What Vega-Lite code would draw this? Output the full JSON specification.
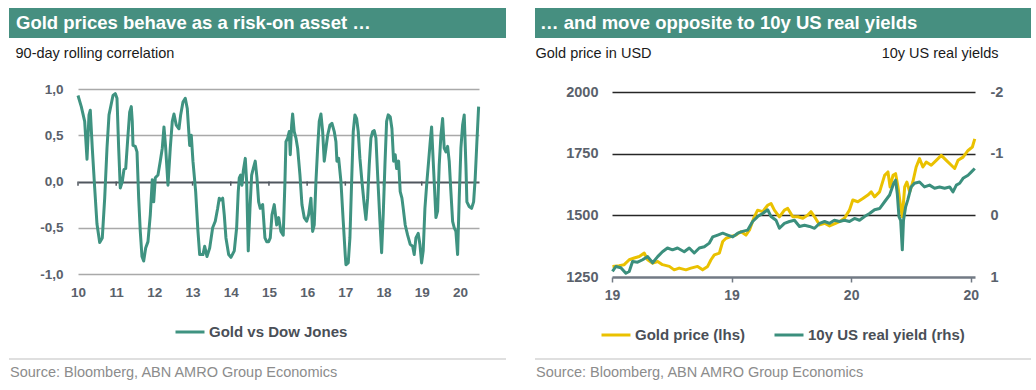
{
  "$schema": "https://vega.github.io/schema/vega-lite/v6.json",
  "padding": {"left": 8, "top": 8, "right": 0, "bottom": 0},
  "background": "white",
  "spacing": 27,
  "config": {
    "font": "Liberation Sans",
    "locale": {"number": {"decimal": ",", "thousands": ".", "grouping": [3], "currency": ["", " €"], "minus": "-"}},
    "view": {"stroke": null},
    "axis": {"labelFont": "Liberation Sans", "labelFontSize": 13.5, "labelFontWeight": "bold", "labelColor": "#5a616b", "titleFont": "Liberation Sans", "titleFontSize": 14.5, "titleFontWeight": "normal", "titleColor": "#1a1a1a"},
    "legend": {"direction": "horizontal", "symbolType": "stroke", "symbolSize": 841, "symbolStrokeWidth": 3, "labelFont": "Liberation Sans", "labelFontSize": 15, "labelFontWeight": "bold", "labelColor": "#4a4f57", "labelOffset": 3, "columnPadding": 22}
  },
  "resolve": {"scale": {"color": "independent"}, "legend": {"color": "independent"}},
  "hconcat": [
    {
      "spacing": 7,
      "resolve": {"scale": {"color": "independent"}, "legend": {"color": "independent"}},
      "vconcat": [
        {
          "width": 497, "height": 30,
          "view": {"fill": "#468f80", "stroke": null},
          "data": {"values": [{"title": "Gold prices behave as a risk-on asset …"}]},
          "mark": {"type": "text", "align": "left", "baseline": "middle", "dx": 7, "fontSize": 18.5, "fontWeight": "bold", "color": "white"},
          "encoding": {
            "text": {"field": "title"},
            "x": {"datum": 0, "type": "quantitative", "scale": {"domain": [0, 1]}, "axis": null},
            "y": {"datum": 0.5, "type": "quantitative", "scale": {"domain": [0, 1]}, "axis": null}
          }
        },
        {
          "spacing": 18,
          "resolve": {"scale": {"color": "independent"}, "legend": {"color": "independent"}},
          "vconcat": [
            {
              "width": 497, "height": 185,
              "layer": [
                {
                  "data": {"values": [{"yr": 2010}, {"yr": 2011}, {"yr": 2012}, {"yr": 2013}, {"yr": 2014}, {"yr": 2015}, {"yr": 2016}, {"yr": 2017}, {"yr": 2018}, {"yr": 2019}, {"yr": 2020}]},
                  "mark": {"type": "rule", "color": "#50575f", "strokeWidth": 1.5},
                  "encoding": {
                    "x": {"field": "yr", "type": "quantitative", "scale": {"domain": [2010, 2020.5], "range": [69, 470], "nice": false, "zero": false},
                      "axis": {"values": [2010, 2011, 2012, 2013, 2014, 2015, 2016, 2017, 2018, 2019, 2020], "labelExpr": "format(datum.value - 2000, 'd')", "domain": false, "ticks": false, "grid": false, "labelPadding": 11, "labelFlush": false, "title": null}},
                    "y": {"datum": 0, "type": "quantitative", "scale": {"domain": [-1, 1], "nice": false, "zero": false},
                      "axis": {"values": [-1, -0.5, 0, 0.5, 1], "format": ".1f", "offset": -69, "domain": false, "ticks": false, "labelPadding": 15, "grid": true,
                        "gridColor": {"condition": {"test": "datum.value === 0", "value": "#50575f"}, "value": "#a9a9a9"},
                        "gridWidth": {"condition": {"test": "datum.value === 0", "value": 2.2}, "value": 1.5},
                        "title": "90-day rolling correlation", "titleAngle": 0, "titleAlign": "left", "titleBaseline": "alphabetic", "titleX": -63, "titleY": -32}},
                    "y2": {"datum": -0.045}
                  }
                },
                {
                  "data": {"values": [
                    {"t": 2010.000, "corr": 0.93}, {"t": 2010.086, "corr": 0.81}, {"t": 2010.175, "corr": 0.65}, {"t": 2010.236, "corr": 0.24}, {"t": 2010.288, "corr": 0.72}, {"t": 2010.322, "corr": 0.77}, {"t": 2010.374, "corr": 0.36}, {"t": 2010.437, "corr": -0.07}, {"t": 2010.497, "corr": -0.46}, {"t": 2010.568, "corr": -0.66}, {"t": 2010.636, "corr": -0.61}, {"t": 2010.699, "corr": -0.18}, {"t": 2010.759, "corr": 0.36}, {"t": 2010.812, "corr": 0.72}, {"t": 2010.872, "corr": 0.84}, {"t": 2010.916, "corr": 0.93}, {"t": 2010.976, "corr": 0.95},
                    {"t": 2011.021, "corr": 0.90}, {"t": 2011.065, "corr": 0.36}, {"t": 2011.107, "corr": -0.07}, {"t": 2011.160, "corr": 0.00}, {"t": 2011.204, "corr": 0.13}, {"t": 2011.249, "corr": 0.14}, {"t": 2011.309, "corr": 0.50}, {"t": 2011.353, "corr": 0.75}, {"t": 2011.395, "corr": 0.81}, {"t": 2011.421, "corr": 0.65}, {"t": 2011.440, "corr": 0.39}, {"t": 2011.500, "corr": 0.38}, {"t": 2011.545, "corr": 0.32}, {"t": 2011.589, "corr": -0.18}, {"t": 2011.631, "corr": -0.54}, {"t": 2011.675, "corr": -0.81}, {"t": 2011.720, "corr": -0.86}, {"t": 2011.772, "corr": -0.72}, {"t": 2011.832, "corr": -0.65}, {"t": 2011.893, "corr": -0.36}, {"t": 2011.945, "corr": 0.02}, {"t": 2011.982, "corr": -0.22},
                    {"t": 2012.024, "corr": 0.04}, {"t": 2012.094, "corr": 0.07}, {"t": 2012.154, "corr": 0.22}, {"t": 2012.207, "corr": 0.36}, {"t": 2012.251, "corr": 0.59}, {"t": 2012.296, "corr": 0.36}, {"t": 2012.356, "corr": -0.04}, {"t": 2012.416, "corr": 0.36}, {"t": 2012.469, "corr": 0.65}, {"t": 2012.513, "corr": 0.73}, {"t": 2012.573, "corr": 0.61}, {"t": 2012.644, "corr": 0.57}, {"t": 2012.688, "corr": 0.72}, {"t": 2012.749, "corr": 0.86}, {"t": 2012.809, "corr": 0.90}, {"t": 2012.861, "corr": 0.79}, {"t": 2012.924, "corr": 0.39}, {"t": 2012.966, "corr": 0.50},
                    {"t": 2013.010, "corr": 0.22}, {"t": 2013.081, "corr": -0.11}, {"t": 2013.141, "corr": -0.54}, {"t": 2013.186, "corr": -0.79}, {"t": 2013.272, "corr": -0.79}, {"t": 2013.317, "corr": -0.70}, {"t": 2013.377, "corr": -0.81}, {"t": 2013.448, "corr": -0.72}, {"t": 2013.526, "corr": -0.50}, {"t": 2013.594, "corr": -0.43}, {"t": 2013.657, "corr": -0.29}, {"t": 2013.699, "corr": -0.18}, {"t": 2013.743, "corr": -0.20}, {"t": 2013.788, "corr": -0.18}, {"t": 2013.830, "corr": -0.36}, {"t": 2013.874, "corr": -0.61}, {"t": 2013.945, "corr": -0.79},
                    {"t": 2014.005, "corr": -0.82}, {"t": 2014.092, "corr": -0.75}, {"t": 2014.154, "corr": -0.50}, {"t": 2014.196, "corr": -0.11}, {"t": 2014.223, "corr": 0.04}, {"t": 2014.259, "corr": 0.07}, {"t": 2014.293, "corr": -0.04}, {"t": 2014.327, "corr": 0.11}, {"t": 2014.380, "corr": 0.25}, {"t": 2014.416, "corr": 0.00}, {"t": 2014.458, "corr": -0.75}, {"t": 2014.503, "corr": -0.29}, {"t": 2014.547, "corr": 0.07}, {"t": 2014.589, "corr": 0.14}, {"t": 2014.641, "corr": 0.22}, {"t": 2014.686, "corr": 0.04}, {"t": 2014.730, "corr": -0.22}, {"t": 2014.772, "corr": -0.29}, {"t": 2014.835, "corr": -0.25}, {"t": 2014.895, "corr": -0.61}, {"t": 2014.940, "corr": -0.65}, {"t": 2014.992, "corr": -0.65},
                    {"t": 2015.034, "corr": -0.61}, {"t": 2015.079, "corr": -0.36}, {"t": 2015.139, "corr": -0.25}, {"t": 2015.202, "corr": -0.47}, {"t": 2015.254, "corr": -0.39}, {"t": 2015.314, "corr": -0.54}, {"t": 2015.374, "corr": -0.58}, {"t": 2015.419, "corr": 0.00}, {"t": 2015.445, "corr": 0.43}, {"t": 2015.490, "corr": 0.47}, {"t": 2015.531, "corr": 0.54}, {"t": 2015.558, "corr": 0.29}, {"t": 2015.594, "corr": 0.61}, {"t": 2015.620, "corr": 0.73}, {"t": 2015.662, "corr": 0.54}, {"t": 2015.707, "corr": 0.47}, {"t": 2015.751, "corr": 0.36}, {"t": 2015.812, "corr": 0.07}, {"t": 2015.864, "corr": -0.25}, {"t": 2015.924, "corr": -0.39}, {"t": 2015.987, "corr": -0.43},
                    {"t": 2016.039, "corr": -0.36}, {"t": 2016.099, "corr": -0.18}, {"t": 2016.144, "corr": -0.54}, {"t": 2016.186, "corr": -0.47}, {"t": 2016.230, "corr": 0.00}, {"t": 2016.275, "corr": 0.36}, {"t": 2016.317, "corr": 0.65}, {"t": 2016.361, "corr": 0.73}, {"t": 2016.406, "corr": 0.54}, {"t": 2016.448, "corr": 0.22}, {"t": 2016.492, "corr": 0.36}, {"t": 2016.537, "corr": 0.50}, {"t": 2016.597, "corr": 0.61}, {"t": 2016.649, "corr": 0.63}, {"t": 2016.710, "corr": 0.54}, {"t": 2016.754, "corr": 0.43}, {"t": 2016.780, "corr": 0.22}, {"t": 2016.825, "corr": 0.25}, {"t": 2016.885, "corr": 0.00}, {"t": 2016.945, "corr": -0.43}, {"t": 2016.997, "corr": -0.79},
                    {"t": 2017.016, "corr": -0.90}, {"t": 2017.076, "corr": -0.88}, {"t": 2017.120, "corr": -0.61}, {"t": 2017.165, "corr": 0.00}, {"t": 2017.207, "corr": 0.54}, {"t": 2017.251, "corr": 0.72}, {"t": 2017.296, "corr": 0.68}, {"t": 2017.338, "corr": 0.54}, {"t": 2017.382, "corr": 0.25}, {"t": 2017.435, "corr": 0.00}, {"t": 2017.495, "corr": -0.25}, {"t": 2017.539, "corr": -0.41}, {"t": 2017.584, "corr": -0.18}, {"t": 2017.626, "corr": 0.18}, {"t": 2017.670, "corr": 0.47}, {"t": 2017.715, "corr": 0.54}, {"t": 2017.757, "corr": 0.55}, {"t": 2017.801, "corr": 0.47}, {"t": 2017.846, "corr": 0.07}, {"t": 2017.906, "corr": -0.43}, {"t": 2017.950, "corr": -0.77}, {"t": 2017.992, "corr": -0.36},
                    {"t": 2018.037, "corr": 0.18}, {"t": 2018.081, "corr": 0.65}, {"t": 2018.123, "corr": 0.72}, {"t": 2018.175, "corr": 0.70}, {"t": 2018.220, "corr": 0.57}, {"t": 2018.264, "corr": 0.22}, {"t": 2018.306, "corr": 0.29}, {"t": 2018.343, "corr": 0.14}, {"t": 2018.395, "corr": 0.22}, {"t": 2018.437, "corr": -0.11}, {"t": 2018.482, "corr": -0.18}, {"t": 2018.516, "corr": -0.29}, {"t": 2018.568, "corr": -0.47}, {"t": 2018.631, "corr": -0.58}, {"t": 2018.699, "corr": -0.68}, {"t": 2018.762, "corr": -0.70}, {"t": 2018.804, "corr": -0.79}, {"t": 2018.848, "corr": -0.61}, {"t": 2018.908, "corr": -0.56}, {"t": 2018.953, "corr": -0.68}, {"t": 2018.997, "corr": -0.88},
                    {"t": 2019.039, "corr": -0.75}, {"t": 2019.084, "corr": -0.29}, {"t": 2019.136, "corr": 0.00}, {"t": 2019.181, "corr": 0.22}, {"t": 2019.223, "corr": 0.43}, {"t": 2019.259, "corr": 0.59}, {"t": 2019.285, "corr": 0.36}, {"t": 2019.327, "corr": 0.00}, {"t": 2019.372, "corr": -0.39}, {"t": 2019.416, "corr": -0.32}, {"t": 2019.458, "corr": 0.18}, {"t": 2019.503, "corr": 0.50}, {"t": 2019.547, "corr": 0.68}, {"t": 2019.589, "corr": 0.36}, {"t": 2019.634, "corr": 0.32}, {"t": 2019.678, "corr": 0.38}, {"t": 2019.720, "corr": 0.22}, {"t": 2019.764, "corr": -0.11}, {"t": 2019.809, "corr": -0.43}, {"t": 2019.851, "corr": -0.50}, {"t": 2019.895, "corr": -0.54}, {"t": 2019.940, "corr": -0.79}, {"t": 2019.982, "corr": -0.18},
                    {"t": 2020.026, "corr": 0.36}, {"t": 2020.071, "corr": 0.61}, {"t": 2020.113, "corr": 0.72}, {"t": 2020.157, "corr": 0.18}, {"t": 2020.183, "corr": -0.22}, {"t": 2020.243, "corr": -0.27}, {"t": 2020.306, "corr": -0.29}, {"t": 2020.359, "corr": -0.22}, {"t": 2020.401, "corr": 0.04}, {"t": 2020.445, "corr": 0.43}, {"t": 2020.490, "corr": 0.81}
                  ]},
                  "mark": {"type": "line", "strokeWidth": 3, "strokeJoin": "round"},
                  "encoding": {
                    "x": {"field": "t", "type": "quantitative", "scale": {"domain": [2010, 2020.5], "range": [69, 470], "nice": false, "zero": false},
                      "axis": {"values": [2010, 2011, 2012, 2013, 2014, 2015, 2016, 2017, 2018, 2019, 2020], "labelExpr": "format(datum.value - 2000, 'd')", "domain": false, "ticks": false, "grid": false, "labelPadding": 11, "labelFlush": false, "title": null}},
                    "y": {"field": "corr", "type": "quantitative", "scale": {"domain": [-1, 1], "nice": false, "zero": false},
                      "axis": {"values": [-1, -0.5, 0, 0.5, 1], "format": ".1f", "offset": -69, "domain": false, "ticks": false, "labelPadding": 15, "grid": true,
                        "gridColor": {"condition": {"test": "datum.value === 0", "value": "#50575f"}, "value": "#a9a9a9"},
                        "gridWidth": {"condition": {"test": "datum.value === 0", "value": 2.2}, "value": 1.5},
                        "title": "90-day rolling correlation", "titleAngle": 0, "titleAlign": "left", "titleBaseline": "alphabetic", "titleX": -63, "titleY": -32}},
                    "color": {"datum": "Gold vs Dow Jones", "scale": {"domain": ["Gold vs Dow Jones"], "range": ["#3f9381"]}, "legend": {"title": null, "orient": "none", "legendX": 165, "legendY": 227}}
                  }
                }
              ]
            },
            {
              "width": 497, "height": 26,
              "layer": [
                {
                  "data": {"values": [{"sep": 1}]},
                  "mark": {"type": "rule", "color": "#d4d4d4", "strokeWidth": 1.5},
                  "encoding": {
                    "x": {"datum": 0, "type": "quantitative", "scale": {"domain": [0, 1]}, "axis": null},
                    "x2": {"datum": 1},
                    "y": {"datum": 1, "type": "quantitative", "scale": {"domain": [0, 1]}, "axis": null}
                  }
                },
                {
                  "data": {"values": [{"source": "Source: Bloomberg, ABN AMRO Group Economics"}]},
                  "mark": {"type": "text", "align": "left", "baseline": "middle", "fontSize": 14.5, "color": "#8c8c8c", "dx": 1},
                  "encoding": {
                    "text": {"field": "source"},
                    "x": {"datum": 0, "type": "quantitative", "scale": {"domain": [0, 1]}, "axis": null},
                    "y": {"datum": 0.45, "type": "quantitative", "scale": {"domain": [0, 1]}, "axis": null}
                  }
                }
              ]
            }
          ]
        }
      ]
    },
    {
      "spacing": 7,
      "resolve": {"scale": {"color": "independent"}, "legend": {"color": "independent"}},
      "vconcat": [
        {
          "width": 496, "height": 30,
          "view": {"fill": "#468f80", "stroke": null},
          "data": {"values": [{"title": "… and move opposite to 10y US real yields"}]},
          "mark": {"type": "text", "align": "left", "baseline": "middle", "dx": 5, "fontSize": 18.5, "fontWeight": "bold", "color": "white"},
          "encoding": {
            "text": {"field": "title"},
            "x": {"datum": 0, "type": "quantitative", "scale": {"domain": [0, 1]}, "axis": null},
            "y": {"datum": 0.5, "type": "quantitative", "scale": {"domain": [0, 1]}, "axis": null}
          }
        },
        {
          "spacing": 15,
          "resolve": {"scale": {"color": "independent"}, "legend": {"color": "independent"}},
          "vconcat": [
            {
              "width": 496, "height": 185,
              "resolve": {"scale": {"y": "independent"}},
              "layer": [
                {
                  "data": {"values": [
                    {"t": 2019.002, "gold": 1293}, {"t": 2019.030, "gold": 1296}, {"t": 2019.051, "gold": 1300}, {"t": 2019.072, "gold": 1320}, {"t": 2019.093, "gold": 1327}, {"t": 2019.114, "gold": 1333}, {"t": 2019.135, "gold": 1347}, {"t": 2019.149, "gold": 1320}, {"t": 2019.170, "gold": 1306}, {"t": 2019.191, "gold": 1313}, {"t": 2019.211, "gold": 1300}, {"t": 2019.240, "gold": 1293}, {"t": 2019.260, "gold": 1279}, {"t": 2019.281, "gold": 1286}, {"t": 2019.309, "gold": 1279}, {"t": 2019.330, "gold": 1286}, {"t": 2019.358, "gold": 1293}, {"t": 2019.379, "gold": 1279}, {"t": 2019.400, "gold": 1293}, {"t": 2019.414, "gold": 1320}, {"t": 2019.428, "gold": 1340}, {"t": 2019.449, "gold": 1347}, {"t": 2019.463, "gold": 1394}, {"t": 2019.477, "gold": 1407}, {"t": 2019.497, "gold": 1414}, {"t": 2019.518, "gold": 1420}, {"t": 2019.539, "gold": 1434}, {"t": 2019.560, "gold": 1420}, {"t": 2019.575, "gold": 1441}, {"t": 2019.595, "gold": 1494}, {"t": 2019.609, "gold": 1521}, {"t": 2019.630, "gold": 1515}, {"t": 2019.651, "gold": 1541}, {"t": 2019.665, "gold": 1548}, {"t": 2019.679, "gold": 1521}, {"t": 2019.700, "gold": 1494}, {"t": 2019.721, "gold": 1521}, {"t": 2019.735, "gold": 1528}, {"t": 2019.756, "gold": 1494}, {"t": 2019.777, "gold": 1494}, {"t": 2019.798, "gold": 1488}, {"t": 2019.819, "gold": 1501}, {"t": 2019.832, "gold": 1515}, {"t": 2019.847, "gold": 1494}, {"t": 2019.868, "gold": 1461}, {"t": 2019.889, "gold": 1468}, {"t": 2019.910, "gold": 1457}, {"t": 2019.930, "gold": 1465}, {"t": 2019.951, "gold": 1474}, {"t": 2019.972, "gold": 1488}, {"t": 2019.993, "gold": 1521},
                    {"t": 2020.007, "gold": 1562}, {"t": 2020.028, "gold": 1555}, {"t": 2020.049, "gold": 1568}, {"t": 2020.070, "gold": 1582}, {"t": 2020.084, "gold": 1595}, {"t": 2020.098, "gold": 1575}, {"t": 2020.119, "gold": 1595}, {"t": 2020.140, "gold": 1662}, {"t": 2020.154, "gold": 1676}, {"t": 2020.163, "gold": 1615}, {"t": 2020.175, "gold": 1662}, {"t": 2020.186, "gold": 1669}, {"t": 2020.196, "gold": 1615}, {"t": 2020.207, "gold": 1535}, {"t": 2020.214, "gold": 1494}, {"t": 2020.224, "gold": 1615}, {"t": 2020.233, "gold": 1635}, {"t": 2020.245, "gold": 1595}, {"t": 2020.258, "gold": 1635}, {"t": 2020.272, "gold": 1696}, {"t": 2020.286, "gold": 1730}, {"t": 2020.300, "gold": 1696}, {"t": 2020.314, "gold": 1716}, {"t": 2020.335, "gold": 1703}, {"t": 2020.356, "gold": 1723}, {"t": 2020.377, "gold": 1743}, {"t": 2020.398, "gold": 1723}, {"t": 2020.419, "gold": 1703}, {"t": 2020.433, "gold": 1690}, {"t": 2020.447, "gold": 1723}, {"t": 2020.468, "gold": 1736}, {"t": 2020.489, "gold": 1763}, {"t": 2020.507, "gold": 1777}, {"t": 2020.517, "gold": 1810}
                  ]},
                  "mark": {"type": "line", "strokeWidth": 3, "strokeJoin": "round"},
                  "encoding": {
                    "x": {"field": "t", "type": "quantitative", "scale": {"domain": [2019, 2020.518], "range": [77, 440], "nice": false, "zero": false},
                      "axis": {"values": [2019, 2019.5, 2020, 2020.5], "labelExpr": "format(floor(datum.value) - 2000, 'd')", "labelFontSize": 14, "domain": true, "domainColor": "#727a84", "domainWidth": 2.5, "ticks": true, "tickColor": "#727a84", "tickSize": 5, "tickWidth": 1.5, "grid": false, "labelPadding": 6, "labelFlush": false, "title": null}},
                    "y": {"field": "gold", "type": "quantitative", "scale": {"domain": [1250, 2000], "nice": false, "zero": false},
                      "axis": {"values": [1250, 1500, 1750, 2000], "format": "d", "labelFontSize": 14.5, "offset": -77, "domain": false, "ticks": false, "labelPadding": 14, "grid": true,
                        "gridColor": {"condition": {"test": "datum.value === 1250", "value": "transparent"}, "value": "#262626"},
                        "gridWidth": 1.5,
                        "title": "Gold price in USD", "titleAngle": 0, "titleAlign": "left", "titleBaseline": "alphabetic", "titleX": -77, "titleY": -35}},
                    "color": {"datum": "Gold price (lhs)", "scale": {"domain": ["Gold price (lhs)", "10y US real yield (rhs)"], "range": ["#eac100", "#3b8f7d"]}, "legend": {"title": null, "orient": "none", "legendX": 65, "legendY": 227}}
                  }
                },
                {
                  "data": {"values": [
                    {"t": 2019.002, "ry": 0.91}, {"t": 2019.016, "ry": 0.83}, {"t": 2019.037, "ry": 0.85}, {"t": 2019.058, "ry": 0.94}, {"t": 2019.072, "ry": 0.91}, {"t": 2019.086, "ry": 0.75}, {"t": 2019.107, "ry": 0.76}, {"t": 2019.128, "ry": 0.72}, {"t": 2019.149, "ry": 0.67}, {"t": 2019.170, "ry": 0.77}, {"t": 2019.191, "ry": 0.67}, {"t": 2019.211, "ry": 0.59}, {"t": 2019.232, "ry": 0.53}, {"t": 2019.253, "ry": 0.56}, {"t": 2019.274, "ry": 0.53}, {"t": 2019.302, "ry": 0.59}, {"t": 2019.323, "ry": 0.53}, {"t": 2019.344, "ry": 0.61}, {"t": 2019.365, "ry": 0.53}, {"t": 2019.386, "ry": 0.51}, {"t": 2019.407, "ry": 0.45}, {"t": 2019.421, "ry": 0.35}, {"t": 2019.442, "ry": 0.32}, {"t": 2019.463, "ry": 0.29}, {"t": 2019.484, "ry": 0.32}, {"t": 2019.505, "ry": 0.35}, {"t": 2019.526, "ry": 0.29}, {"t": 2019.546, "ry": 0.26}, {"t": 2019.567, "ry": 0.24}, {"t": 2019.588, "ry": 0.10}, {"t": 2019.609, "ry": 0.02}, {"t": 2019.630, "ry": -0.03}, {"t": 2019.651, "ry": -0.09}, {"t": 2019.665, "ry": 0.02}, {"t": 2019.686, "ry": 0.08}, {"t": 2019.700, "ry": 0.21}, {"t": 2019.721, "ry": 0.13}, {"t": 2019.742, "ry": 0.10}, {"t": 2019.763, "ry": 0.08}, {"t": 2019.784, "ry": 0.18}, {"t": 2019.805, "ry": 0.16}, {"t": 2019.826, "ry": 0.18}, {"t": 2019.847, "ry": 0.21}, {"t": 2019.868, "ry": 0.13}, {"t": 2019.889, "ry": 0.10}, {"t": 2019.910, "ry": 0.13}, {"t": 2019.930, "ry": 0.08}, {"t": 2019.951, "ry": 0.10}, {"t": 2019.972, "ry": 0.08}, {"t": 2019.993, "ry": 0.10},
                    {"t": 2020.014, "ry": 0.05}, {"t": 2020.035, "ry": 0.08}, {"t": 2020.056, "ry": 0.02}, {"t": 2020.077, "ry": -0.03}, {"t": 2020.098, "ry": -0.09}, {"t": 2020.119, "ry": -0.11}, {"t": 2020.140, "ry": -0.22}, {"t": 2020.161, "ry": -0.33}, {"t": 2020.178, "ry": -0.52}, {"t": 2020.186, "ry": -0.57}, {"t": 2020.193, "ry": -0.35}, {"t": 2020.200, "ry": 0.02}, {"t": 2020.207, "ry": 0.08}, {"t": 2020.214, "ry": 0.56}, {"t": 2020.219, "ry": 0.08}, {"t": 2020.228, "ry": -0.14}, {"t": 2020.237, "ry": -0.25}, {"t": 2020.251, "ry": -0.46}, {"t": 2020.265, "ry": -0.52}, {"t": 2020.286, "ry": -0.54}, {"t": 2020.307, "ry": -0.46}, {"t": 2020.328, "ry": -0.49}, {"t": 2020.349, "ry": -0.44}, {"t": 2020.370, "ry": -0.46}, {"t": 2020.391, "ry": -0.44}, {"t": 2020.412, "ry": -0.46}, {"t": 2020.426, "ry": -0.38}, {"t": 2020.440, "ry": -0.49}, {"t": 2020.454, "ry": -0.52}, {"t": 2020.468, "ry": -0.60}, {"t": 2020.489, "ry": -0.65}, {"t": 2020.502, "ry": -0.70}, {"t": 2020.517, "ry": -0.76}
                  ]},
                  "mark": {"type": "line", "strokeWidth": 3, "strokeJoin": "round"},
                  "encoding": {
                    "x": {"field": "t", "type": "quantitative", "scale": {"domain": [2019, 2020.518], "range": [77, 440], "nice": false, "zero": false},
                      "axis": {"values": [2019, 2019.5, 2020, 2020.5], "labelExpr": "format(floor(datum.value) - 2000, 'd')", "labelFontSize": 14, "domain": true, "domainColor": "#727a84", "domainWidth": 2.5, "ticks": true, "tickColor": "#727a84", "tickSize": 5, "tickWidth": 1.5, "grid": false, "labelPadding": 6, "labelFlush": false, "title": null}},
                    "y": {"field": "ry", "type": "quantitative", "scale": {"domain": [-2, 1], "reverse": true, "nice": false, "zero": false},
                      "axis": {"orient": "right", "values": [-2, -1, 0, 1], "format": "d", "labelFontSize": 14.5, "offset": -56, "domain": false, "ticks": false, "labelPadding": 15, "grid": false,
                        "title": "10y US real yields", "titleAngle": 0, "titleAlign": "right", "titleBaseline": "alphabetic", "titleX": 23, "titleY": -35}},
                    "color": {"datum": "10y US real yield (rhs)", "scale": {"domain": ["Gold price (lhs)", "10y US real yield (rhs)"], "range": ["#eac100", "#3b8f7d"]}, "legend": {"title": null, "orient": "none", "legendX": 65, "legendY": 227}}
                  }
                }
              ]
            },
            {
              "width": 496, "height": 26,
              "layer": [
                {
                  "data": {"values": [{"sep": 1}]},
                  "mark": {"type": "rule", "color": "#d4d4d4", "strokeWidth": 1.5},
                  "encoding": {
                    "x": {"datum": 0, "type": "quantitative", "scale": {"domain": [0, 1]}, "axis": null},
                    "x2": {"datum": 1},
                    "y": {"datum": 1, "type": "quantitative", "scale": {"domain": [0, 1]}, "axis": null}
                  }
                },
                {
                  "data": {"values": [{"source": "Source: Bloomberg, ABN AMRO Group Economics"}]},
                  "mark": {"type": "text", "align": "left", "baseline": "middle", "fontSize": 14.5, "color": "#8c8c8c", "dx": 1},
                  "encoding": {
                    "text": {"field": "source"},
                    "x": {"datum": 0, "type": "quantitative", "scale": {"domain": [0, 1]}, "axis": null},
                    "y": {"datum": 0.45, "type": "quantitative", "scale": {"domain": [0, 1]}, "axis": null}
                  }
                }
              ]
            }
          ]
        }
      ]
    }
  ]
}
